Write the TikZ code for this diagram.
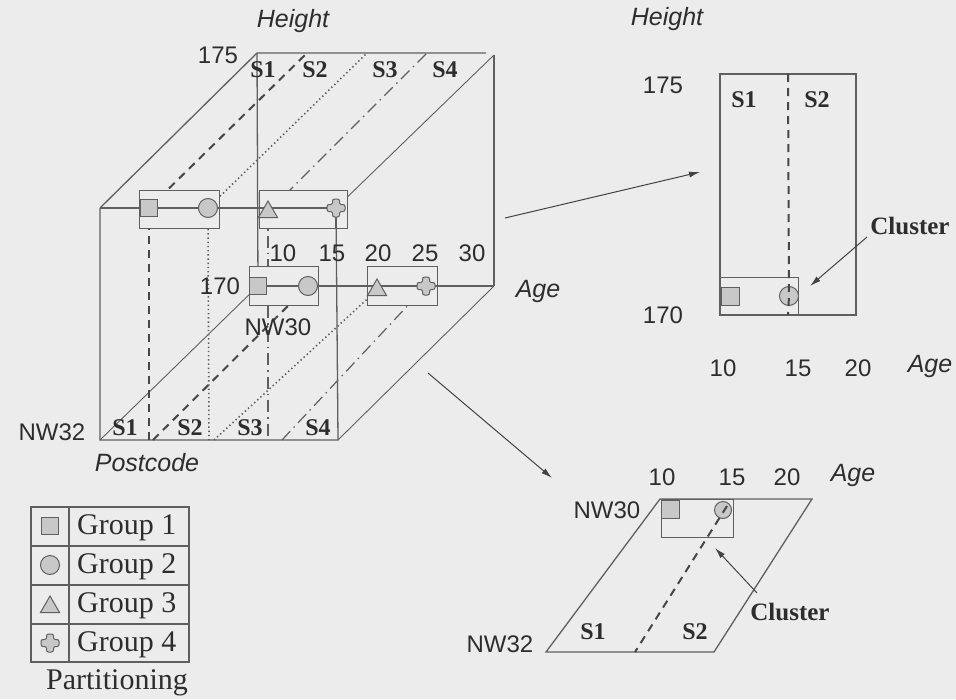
\documentclass[tikz,border=0pt]{standalone}
\usepackage{fontspec}
\setmainfont{Liberation Serif}
\setsansfont{Liberation Sans}
\usetikzlibrary{shapes.geometric,arrows.meta}
\definecolor{bg}{RGB}{236,236,236}
\definecolor{ln}{RGB}{95,95,95}
\definecolor{mk}{RGB}{200,200,200}
\definecolor{tx}{RGB}{45,45,45}
\newcommand\plusshape[1]{\draw[ln, line width=1pt, fill=mk, rounded corners=2pt] (#1.center) +(-3.5,-9) -- +(3.5,-9) -- +(3.5,-3.5) -- +(9,-3.5) -- +(9,3.5) -- +(3.5,3.5) -- +(3.5,9) -- +(-3.5,9) -- +(-3.5,3.5) -- +(-9,3.5) -- +(-9,-3.5) -- +(-3.5,-3.5) -- cycle;}
\begin{document}
\begin{tikzpicture}[x=1pt,y=-1pt,
  edge/.style={draw=ln, line width=1.3pt},
  thinl/.style={draw=ln, line width=0.9pt},
  grpbox/.style={draw=ln, line width=1pt, fill=bg},
  sqm/.style={rectangle, draw=ln, fill=mk, minimum size=17pt, inner sep=0pt, line width=1pt},
  cirm/.style={circle, draw=ln, fill=mk, minimum size=19pt, inner sep=0pt, line width=1pt},
  trim/.style={regular polygon, regular polygon sides=3, draw=ln, fill=mk, minimum size=22pt, inner sep=0pt, line width=1pt},
  plm/.style={circle, minimum size=18pt, inner sep=0pt},
  sans/.style={font=\fontsize{24}{24}\sffamily, text=tx, inner sep=0pt},
  ital/.style={font=\fontsize{25}{25}\sffamily\itshape, text=tx, inner sep=0pt},
  sb/.style={font=\fontsize{24}{24}\bfseries, text=tx, inner sep=0pt},
  clu/.style={font=\fontsize{25}{25}\bfseries, text=tx, inner sep=0pt},
  leg/.style={font=\fontsize{30}{30}\selectfont, text=tx, inner sep=0pt},
  dashA/.style={draw=ln!75!black, line width=2pt, dash pattern=on 8pt off 6pt},
  dotB/.style={draw=ln, line width=1.6pt, dash pattern=on 1.4pt off 2.8pt},
  dashdotC/.style={draw=ln, line width=1.2pt, dash pattern=on 12pt off 5pt on 1.5pt off 5pt},
  arr/.style={draw=ln!70!black, line width=1pt, -{Latex[length=11pt,width=6pt]}}
]
\fill[bg] (0,0) rectangle (956,699);
\useasboundingbox (0,0) rectangle (956,699);

% ---------- cube corners ----------
\coordinate (ftl) at (100,208);
\coordinate (fbl) at (100,440);
\coordinate (fbr) at (338,440);
\coordinate (btl) at (257,53);
\coordinate (btr) at (486,53);
\coordinate (bbr) at (494,286);
\coordinate (btrc) at (494,55);

% markers (positions)
\node[sqm]  (sqA) at (149,208) {};
\node[cirm] (ciA) at (208,208) {};
\node[trim] (trA) at (268,212) {};
\node[plm]  (plA) at (336,208) {};
\node[sqm]  (sqB) at (258,286) {};
\node[cirm] (ciB) at (308,286) {};
\node[trim] (trB) at (377,290) {};
\node[plm]  (plB) at (426,286) {};

% partition ends
\coordinate (dT) at (307,53);
\coordinate (oT) at (367,53);
\coordinate (cT) at (427,53);
\coordinate (dF) at (149,440);
\coordinate (oF) at (209,440);
\coordinate (cF) at (268,440);
\coordinate (dB) at (153,440);
\coordinate (oB) at (214,440);
\coordinate (cB) at (282,440);

% ---------- cube edges ----------
\draw[edge] (ftl) -- (btl) -- (btr);
\draw[edge] (btl) -- (sqB.center);
\draw[thinl] (plA.center) -- (btrc);
\draw[edge] (btrc) -- (bbr);
\draw[edge] (ftl) -- (fbl) -- (fbr) -- (plA.center);
\draw[thinl] (fbl) -- (sqB.center);
\draw[thinl] (fbr) -- (bbr);

% partitions
\draw[dashA] (sqA.center) -- (dT);
\draw[dashA] (sqA.center) -- (dF);
\draw[dashA] (dB) -- (ciB.center);
\draw[dotB] (ciA.center) -- (oT);
\draw[dotB] (ciA.center) -- (oF);
\draw[dotB] (oB) -- (trB.center);
\draw[dashdotC] (trA.center) -- (cT);
\draw[dashdotC] (trA.center) -- (cF);
\draw[dashdotC] (cB) -- (plB.center);

% group boxes
\draw[grpbox] (139,190) rectangle (219,228);
\draw[grpbox] (259,190) rectangle (347,228);
\draw[grpbox] (249,266) rectangle (318,305);
\draw[grpbox] (367,266) rectangle (437,305);

% axis lines through markers
\draw[edge] (ftl) -- (plA.center);
\draw[edge] (sqB.center) -- (bbr);
\draw[edge] (336,208) -- (336,228);

% markers on top
\node[sqm]  at (sqA) {};
\node[cirm] at (ciA) {};
\node[trim] at (trA) {};
\plusshape{plA}
\node[sqm]  at (sqB) {};
\node[cirm] at (ciB) {};
\node[trim] at (trB) {};
\plusshape{plB}

% labels of cube
\node[ital] (hgt1) at (293,21) {Height};
\node[sans] (l175) at (218,55) {175};
\node[sb] (ts1) at (263,70) {S1};
\node[sb] (ts2) at (315,70) {S2};
\node[sb] (ts3) at (385,70) {S3};
\node[sb] (ts4) at (445,70) {S4};
\node[sans] (a10) at (283,253) {10};
\node[sans] (a15) at (332,253) {15};
\node[sans] (a20) at (378,253) {20};
\node[sans] (a25) at (425,253) {25};
\node[sans] (a30) at (472,253) {30};
\node[sans] (l170) at (220,286) {170};
\node[sans] (nw30) at (278,327) {NW30};
\node[sans] (nw32) at (52,432) {NW32};
\node[sb] (bs1) at (125,428) {S1};
\node[sb] (bs2) at (190,428) {S2};
\node[sb] (bs3) at (250,428) {S3};
\node[sb] (bs4) at (318,428) {S4};
\node[ital] (pc) at (147,463) {Postcode};
\node[ital] (age1) at (538,291) {Age};

% ---------- panel 2 (top right) ----------
\draw[edge] (720,74) rectangle (856,315);
\draw[grpbox, fill=none] (720,277) rectangle (798,315);
\node[sqm, minimum size=18pt]  (sqP) at (730,296) {};
\node[cirm] (ciP) at (789,296) {};
\draw[dashA] (788,74) -- (ciP.center) -- (788,315);
\node[ital] (hgt2) at (667,19) {Height};
\node[sans] (p175) at (663,85) {175};
\node[sans] (p170) at (663,315) {170};
\node[sb] (ps1) at (744,100) {S1};
\node[sb] (ps2) at (817,100) {S2};
\node[sans] (p10) at (723,368) {10};
\node[sans] (p15) at (798,368) {15};
\node[sans] (p20) at (858,368) {20};
\node[ital] (age2) at (930,366) {Age};
\node[clu] (clu2) at (910,226) {Cluster};
\coordinate (c2s) at (867,237);
\coordinate (c2e) at (810,286);
\draw[arr] (c2s) -- (c2e);

% ---------- panel 3 (bottom right) ----------
\coordinate (q1) at (660,499);
\coordinate (q2) at (812,499);
\coordinate (q3) at (714,652);
\coordinate (q4) at (546,652);
\draw[edge] (q1) -- (q2) -- (q3) -- (q4) -- cycle;
\draw[grpbox, fill=none] (661,499) rectangle (733,537);
\node[sqm, minimum size=18pt] (sqQ) at (670,509) {};
\node[cirm, minimum size=17pt] (ciQ) at (723,510) {};
\coordinate (qd) at (635,652);
\draw[dashA] (727,506) -- (qd);
\node[sans] (q10) at (662,477) {10};
\node[sans] (q15) at (732,477) {15};
\node[sans] (q20) at (787,477) {20};
\node[ital] (age3) at (853,475) {Age};
\node[sans] (qnw30) at (607,510) {NW30};
\node[sans] (qnw32) at (500,644) {NW32};
\node[sb] (qs1) at (593,632) {S1};
\node[sb] (qs2) at (695,632) {S2};
\node[clu] (clu3) at (790,612) {Cluster};
\coordinate (c3s) at (757,593);
\coordinate (c3e) at (715,548);
\draw[arr] (c3s) -- (c3e);

% ---------- arrows from cube ----------
\coordinate (a1s) at (505,218);
\coordinate (a1e) at (700,172);
\draw[arr] (a1s) -- (a1e);
\coordinate (a2s) at (428,373);
\coordinate (a2e) at (552,478);
\draw[arr] (a2s) -- (a2e);

% ---------- legend ----------
\draw[thinl, line width=1.1pt] (31,507) rectangle (189,662);
\draw[thinl, line width=1.1pt] (69,507) -- (69,662);
\foreach \yy in {546,585,624} \draw[thinl, line width=1.1pt] (31,\yy) -- (189,\yy);
\node[sqm] (lg1) at (50,526) {};
\node[cirm] (lg2) at (50,565) {};
\node[trim] (lg3) at (50,607) {};
\node[plm] (lg4) at (50,643) {};
\plusshape{lg4}
\node[leg, anchor=west] (t1) at (77,528) {Group 1};
\node[leg, anchor=west] (t2) at (77,567) {Group 2};
\node[leg, anchor=west] (t3) at (77,606) {Group 3};
\node[leg, anchor=west] (t4) at (77,645) {Group 4};
\node[leg] (part) at (117,683) {Partitioning};
\end{tikzpicture}
\end{document}
